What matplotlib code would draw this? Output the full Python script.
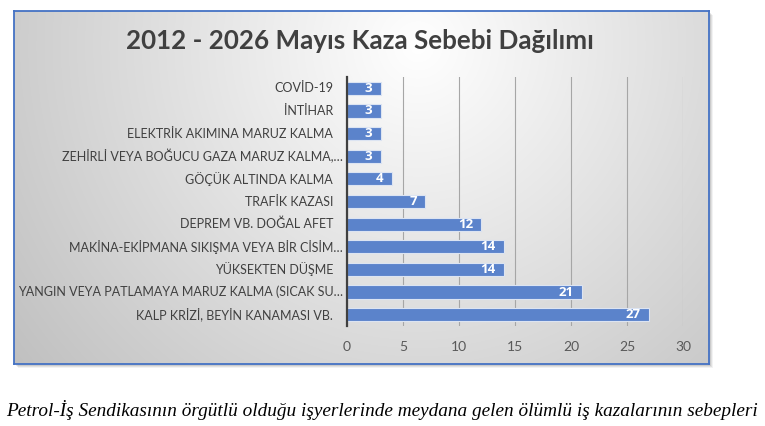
import numpy as np
import matplotlib
matplotlib.use("Agg")
import matplotlib.pyplot as plt
from matplotlib.patches import Rectangle
from matplotlib.transforms import blended_transform_factory, offset_copy

# data (bottom to top)
categories = [
    "KALP KRİZİ, BEYİN KANAMASI VB.",
    "YANGIN VEYA PATLAMAYA MARUZ KALMA (SICAK SU…",
    "YÜKSEKTEN DÜŞME",
    "MAKİNA-EKİPMANA SIKIŞMA VEYA BİR CİSİM…",
    "DEPREM VB. DOĞAL AFET",
    "TRAFİK KAZASI",
    "GÖÇÜK ALTINDA KALMA",
    "ZEHİRLİ VEYA BOĞUCU GAZA MARUZ KALMA,…",
    "ELEKTRİK AKIMINA MARUZ KALMA",
    "İNTİHAR",
    "COVİD-19",
]
counts = [27, 21, 14, 14, 12, 7, 4, 3, 3, 3, 3]
xticks = [0, 5, 10, 15, 20, 25, 30]

title = "2012 - 2026 Mayıs Kaza Sebebi Dağılımı"
caption = "Petrol-İş Sendikasının örgütlü olduğu işyerlerinde meydana gelen ölümlü iş kazalarının sebepleri"

W, H = 765, 426
fig = plt.figure(figsize=(W / 100, H / 100), dpi=100)
fig.patch.set_facecolor("white")

# chart box (pixels)
bx0, by0, bx1, by1 = 13.5, 10.5, 709, 364

# soft shadow
for k, a in zip([4, 3, 2], [0.05, 0.07, 0.09]):
    fig.patches.append(Rectangle(((bx0 + k) / W, 1 - (by1 + k) / H), (bx1 - bx0) / W, (by1 - by0) / H,
                                 transform=fig.transFigure, facecolor="black", alpha=a,
                                 edgecolor="none", zorder=0))

bg = fig.add_axes([bx0 / W, 1 - by1 / H, (bx1 - bx0) / W, (by1 - by0) / H], zorder=1)
nx, ny = 700, 354
gx, gy = np.meshgrid(np.arange(nx), np.arange(ny))
d = np.hypot(gx - 0.58 * nx, gy - 0.1 * ny)
val = np.clip(1 - 0.24 * d / 500, 0.75, 1)
bg.imshow(np.dstack([val, val, val]), aspect="auto", extent=(0, 1, 0, 1), origin="upper")
bg.set_xticks([])
bg.set_yticks([])
for s in bg.spines.values():
    s.set_color("#4472C4")
    s.set_linewidth(1.3)

ax = fig.add_axes([347 / W, 1 - 326 / H, (683 - 347) / W, (326 - 77) / H], zorder=2)
ax.patch.set_alpha(0)
y = np.arange(len(categories))
bars = ax.barh(y, counts, height=0.58, color="#5B83CB", edgecolor="#DCE4F2", linewidth=0.8, zorder=3)
for b, v in zip(bars, counts):
    ax.text(v - 0.75, b.get_y() + b.get_height() / 2, str(v), ha="right", va="center",
            color="white", fontweight="bold", fontsize=9.5, family="Open Sans", zorder=4)

# category labels, truncated ones sit a bit further right (as in Excel)
trans = blended_transform_factory(ax.transAxes, ax.transData)
for yi, lab in zip(y, categories):
    off = -4 if lab.endswith("…") else -14
    t = offset_copy(trans, fig=fig, x=off, y=0, units="dots")
    ax.text(0, yi, lab, transform=t, ha="right", va="center", family="Lato",
            fontsize=9, color="#404040")

ax.set_xlim(0, 30)
ax.set_ylim(-0.5, len(categories) - 0.5)
ax.set_xticks(xticks)
ax.set_yticks([])
ax.tick_params(axis="x", length=0, pad=11, labelsize=10, labelcolor="#595959")
for lbl in ax.get_xticklabels():
    lbl.set_family("Lato")
ax.grid(axis="x", color="#A6A6A6", linewidth=0.8, zorder=0)
for s in ["top", "right", "bottom"]:
    ax.spines[s].set_visible(False)
ax.spines["left"].set_color("#404040")
ax.spines["left"].set_linewidth(1.6)
ax.spines["left"].set_zorder(5)

fig.text(360 / W, 1 - 41 / H, title, ha="center", va="center", fontsize=18.7,
         fontweight="bold", color="#404040", family="Lato", zorder=3)
fig.text(382 / W, 1 - 410 / H, caption, ha="center", va="center", fontsize=13.9,
         style="italic", family="Liberation Serif", color="black")

fig.savefig("out.png", dpi=100, facecolor="white")
